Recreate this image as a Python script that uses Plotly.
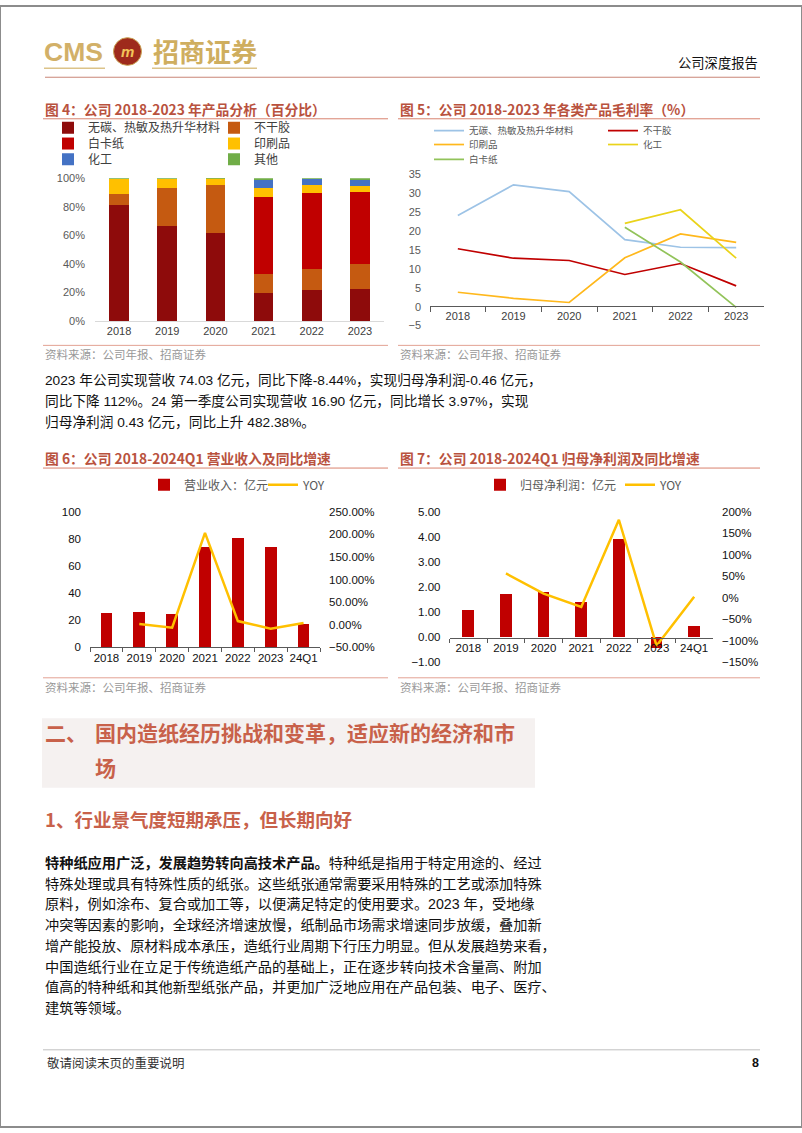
import plotly.graph_objects as go

W, H = 802, 1133


def px(x):
    return x / W


def py(y):
    return 1 - y / H


FONT = "Liberation Sans, Arial, Noto Sans CJK SC"
CJK = "Noto Sans CJK SC, Liberation Sans"
RED = "#C00000"
TITLE_C = "#B9523E"
HEAD_C = "#C8614A"
GOLD = "#D2B068"

# ---------------- data ----------------
years6 = ["2018", "2019", "2020", "2021", "2022", "2023"]
years7 = ["2018", "2019", "2020", "2021", "2022", "2023", "24Q1"]
pct_ticks = [0, 20, 40, 60, 80, 100]
pct_labels = ["0%", "20%", "40%", "60%", "80%", "100%"]

# Fig 4: product mix (%)
share_wutan = [81.5, 66.6, 61.3, 19.4, 22.1, 22.8]
share_buganjiao = [7.7, 26.7, 34.1, 13.3, 14.5, 17.5]
share_baika = [0, 0, 0, 54.2, 52.8, 49.8]
share_yinshua = [10.1, 6.2, 4.4, 6.2, 6.0, 4.6]
share_huagong = [0, 0, 0, 6.0, 3.9, 4.1]
share_qita = [0.7, 0.5, 0.2, 0.9, 0.7, 1.2]

# Fig 5: gross margin (%)
gm_wutan = [24.1, 32.2, 30.4, 17.7, 15.7, 15.6]
gm_buganjiao = [15.3, 12.8, 12.2, 8.5, 11.4, 5.5]
gm_yinshua = [3.8, 2.2, 1.1, 12.9, 19.2, 17.0]
gm_huagong = [None, None, None, 22.0, 25.6, 12.8]
gm_baika = [None, None, None, 21.0, 11.8, -0.2]

# Fig 6: revenue (亿元) and YoY (%)
revenue = [25.5, 26.0, 24.3, 74.0, 80.8, 74.03, 16.90]
revenue_yoy = [None, 1.7, -6.3, 203.0, 8.2, -8.44, 3.97]

# Fig 7: net profit (亿元) and YoY (%)
profit = [1.08, 1.70, 1.79, 1.38, 3.89, -0.46, 0.43]
profit_yoy = [None, 56.0, 9.0, -22.0, 181.0, -112.0, 2.0]

fig = go.Figure()

# ---------------- Fig 4 ----------------
c1 = [
    ("无碳、热敏及热升华材料", share_wutan, "#8E0B0B", "legend"),
    ("不干胶", share_buganjiao, "#C55A11", "legend"),
    ("白卡纸", share_baika, "#C00000", "legend2"),
    ("印刷品", share_yinshua, "#FFC000", "legend2"),
    ("化工", share_huagong, "#4472C4", "legend3"),
    ("其他", share_qita, "#70AD47", "legend3"),
]
for name, vals, color, lg in c1:
    fig.add_trace(go.Bar(x=years6, y=vals, name=name, width=0.41,
                         marker=dict(color=color, line=dict(width=0)),
                         xaxis="x", yaxis="y", legend=lg))

# ---------------- Fig 5 ----------------
c2 = [
    ("无碳、热敏及热升华材料", gm_wutan, "#9DC3E6", "legend4"),
    ("不干胶", gm_buganjiao, "#C00000", "legend4"),
    ("印刷品", gm_yinshua, "#FFB81C", "legend5"),
    ("化工", gm_huagong, "#EAD31A", "legend5"),
    ("白卡纸", gm_baika, "#92C35A", "legend6"),
]
for name, vals, color, lg in c2:
    fig.add_trace(go.Scatter(x=years6, y=vals, name=name, mode="lines",
                             line=dict(color=color, width=1.7),
                             xaxis="x2", yaxis="y2", legend=lg))

# ---------------- Fig 6 ----------------
fig.add_trace(go.Bar(x=years7, y=revenue, name="营业收入：亿元", width=0.355,
                     marker=dict(color=RED, line=dict(width=0)),
                     xaxis="x3", yaxis="y3", legend="legend7"))
fig.add_trace(go.Scatter(x=years7, y=revenue_yoy, name="YOY", mode="lines",
                         line=dict(color="#FFC000", width=2.5),
                         xaxis="x3", yaxis="y4", legend="legend7"))

# ---------------- Fig 7 ----------------
fig.add_trace(go.Bar(x=years7, y=profit, name="归母净利润：亿元", width=0.31,
                     marker=dict(color=RED, line=dict(width=0)),
                     xaxis="x4", yaxis="y5", legend="legend8"))
fig.add_trace(go.Scatter(x=years7, y=profit_yoy, name="YOY", mode="lines",
                         line=dict(color="#FFC000", width=2.5),
                         xaxis="x4", yaxis="y6", legend="legend8"))

# ---------------- axes ----------------
noline = dict(showgrid=False, zeroline=False)
layout_axes = dict(
    xaxis=dict(domain=[px(95), px(384)], anchor="y", type="category",
               range=[-0.5, 5.5], tickangle=0,
               showline=True, linecolor="#D9D9D9", linewidth=1, ticks="",
               tickfont=dict(size=11, color="#404040"), **noline),
    yaxis=dict(domain=[py(318.5), py(174)], anchor="x", range=[0, 100],
               tickvals=pct_ticks, ticktext=pct_labels,
               tickfont=dict(size=11, color="#595959"), ticklabelstandoff=9,
               **noline),
    xaxis2=dict(domain=[px(430), px(764)], anchor="free", position=py(303),
                type="category", range=[-0.5, 5.5], tickangle=0,
                showline=True, linecolor="#595959",
                ticks="outside", ticklen=5, tickcolor="#595959",
                tickson="boundaries", tickfont=dict(size=11, color="#404040"),
                **noline),
    yaxis2=dict(domain=[py(323), py(170)], anchor="x2", range=[-5, 35],
                dtick=5, tickfont=dict(size=11, color="#595959"),
                ticklabelstandoff=8, **noline),
    xaxis3=dict(domain=[px(90), px(320)], anchor="y3", type="category",
                range=[-0.5, 6.5], tickangle=0,
                showline=True, linecolor="#595959", ticks="outside",
                ticklen=4, tickcolor="#595959", tickson="boundaries",
                tickfont=dict(size=11.5, color="#111111"), **noline),
    yaxis3=dict(domain=[py(648.3), py(511)], anchor="x3", range=[0, 100],
                dtick=20, tickfont=dict(size=11.5, color="#111111"),
                ticklabelstandoff=8, **noline),
    yaxis4=dict(overlaying="y3", side="right", anchor="x3", range=[-50, 250],
                dtick=50, tickformat=".2f", ticksuffix="%",
                tickfont=dict(size=11.5, color="#111111"),
                ticklabelstandoff=8, **noline),
    xaxis4=dict(domain=[px(449.5), px(713)], anchor="free", position=py(638.3),
                type="category", range=[-0.5, 6.5], tickangle=0,
                showline=True, linecolor="#595959",
                ticks="outside", ticklen=4, tickcolor="#595959",
                tickson="boundaries", tickfont=dict(size=11.5, color="#111111"),
                **noline),
    yaxis5=dict(domain=[py(663), py(511)], anchor="x4", range=[-1, 5],
                dtick=1, tickformat=".2f",
                tickfont=dict(size=11.5, color="#111111"),
                ticklabelstandoff=8, **noline),
    yaxis6=dict(overlaying="y5", side="right", anchor="x4", range=[-150, 200],
                dtick=50, ticksuffix="%",
                tickfont=dict(size=11.5, color="#111111"),
                ticklabelstandoff=8, **noline),
)


def leg(x, y, ew, size, color):
    return dict(x=px(x), y=py(y), xanchor="left", yanchor="middle",
                orientation="h", entrywidth=ew, traceorder="normal",
                bgcolor="rgba(0,0,0,0)", font=dict(family=CJK, size=size, color=color),
                itemclick=False, itemdoubleclick=False)


legends = dict(
    legend=leg(48, 123, 121, 12, "#404040"),
    legend2=leg(48, 139, 121, 12, "#404040"),
    legend3=leg(48, 155, 121, 12, "#404040"),
    legend4=leg(429, 126, 129, 9.5, "#595959"),
    legend5=leg(429, 140, 129, 9.5, "#595959"),
    legend6=leg(429, 155, 129, 9.5, "#595959"),
    legend7=leg(144, 484, 74, 12, "#595959"),
    legend8=leg(480, 484, 95, 12, "#595959"),
)

# ---------------- texts ----------------
ann = []


def text(x, y, s, size, color="#000000", family=CJK, anchor="left"):
    ann.append(dict(x=px(x), y=py(y), xref="paper", yref="paper", text=s,
                    showarrow=False, xanchor=anchor, yanchor="middle",
                    font=dict(family=family, size=size, color=color)))


# header
text(42, 46, "<b>CMS</b>", 26.5, GOLD, FONT)
text(127.5, 46, "<b><i>m</i></b>", 15, "#F2C45A", FONT, "center")
text(151, 45, "<b>招商证券</b>", 26, "#CFAE5F")
text(760, 57, "公司深度报告", 13.3, "#111111", CJK, "right")

# chart titles
text(43, 104, "<b>图 4：公司 2018-2023 年产品分析（百分比）</b>", 13.8, TITLE_C)
text(398, 104, "<b>图 5：公司 2018-2023 年各类产品毛利率（%）</b>", 13.8, TITLE_C)
text(43, 457, "<b>图 6：公司 2018-2024Q1 营业收入及同比增速</b>", 13.8, TITLE_C)
text(398, 457, "<b>图 7：公司 2018-2024Q1 归母净利润及同比增速</b>", 13.8, TITLE_C)

for x0, y0 in [(43, 352), (398, 352), (43, 688), (398, 688)]:
    text(x0, y0, "资料来源：公司年报、招商证券", 11.5, "#999999")

# paragraph
para = [
    "2023 年公司实现营收 74.03 亿元，同比下降-8.44%，实现归母净利润-0.46 亿元，",
    "同比下降 112%。24 第一季度公司实现营收 16.90 亿元，同比增长 3.97%，实现",
    "归母净利润 0.43 亿元，同比上升 482.38%。",
]
for i, s in enumerate(para):
    text(43, 378 + 21 * i, s, 13.7, "#111111", FONT)

# section headings
text(43, 734, "<b>二、</b>", 21, HEAD_C)
text(93, 734, "<b>国内造纸经历挑战和变革，适应新的经济和市</b>", 21, HEAD_C)
text(93, 769, "<b>场</b>", 21, HEAD_C)
text(43, 822, "<b>1、行业景气度短期承压，但长期向好</b>", 18.5, HEAD_C)

body = [
    "<b>特种纸应用广泛，发展趋势转向高技术产品。</b>特种纸是指用于特定用途的、经过",
    "特殊处理或具有特殊性质的纸张。这些纸张通常需要采用特殊的工艺或添加特殊",
    "原料，例如涂布、复合或加工等，以便满足特定的使用要求。2023 年，受地缘",
    "冲突等因素的影响，全球经济增速放慢，纸制品市场需求增速同步放缓，叠加新",
    "增产能投放、原材料成本承压，造纸行业周期下行压力明显。但从发展趋势来看，",
    "中国造纸行业在立足于传统造纸产品的基础上，正在逐步转向技术含量高、附加",
    "值高的特种纸和其他新型纸张产品，并更加广泛地应用在产品包装、电子、医疗、",
    "建筑等领域。",
]
for i, s in enumerate(body):
    text(43, 866 + 21 * i, s, 14.2, "#111111", FONT)

# footer
text(45, 1068, "敬请阅读末页的重要说明", 12.5, "#333333")
text(761, 1068, "<b>8</b>", 12.5, "#111111", FONT, "right")

# ---------------- shapes ----------------
shapes = []


def hline(x0, x1, y, color, w=1):
    shapes.append(dict(type="line", xref="paper", yref="paper",
                       x0=px(x0), x1=px(x1), y0=py(y), y1=py(y),
                       line=dict(color=color, width=w)))


# page border
shapes.append(dict(type="rect", xref="paper", yref="paper", x0=0, x1=1, y0=0, y1=1,
                   line=dict(color="#8C8C8C", width=2), layer="above"))
# logo
shapes.append(dict(type="circle", xref="paper", yref="paper",
                   x0=px(113.5), x1=px(141.5), y0=py(60), y1=py(32),
                   fillcolor="#9E2A1C", line=dict(color="#C9A050", width=1),
                   layer="below"))
hline(44, 105, 63, "#DCC389", 1.5)
hline(152, 257, 63, "#DCC389", 1.5)
hline(45, 760, 72, "#C98676", 1)
# chart title / source lines
hline(43, 388, 114, "#D9826E", 1)
hline(398, 760, 114, "#D9826E", 1)
hline(43, 388, 343, "#E3A293", 1)
hline(398, 760, 343, "#E3A293", 1)
hline(43, 388, 467, "#D9826E", 1)
hline(398, 760, 467, "#D9826E", 1)
hline(43, 388, 679, "#E3A293", 1)
hline(398, 760, 679, "#E3A293", 1)
# section heading box
shapes.append(dict(type="rect", xref="paper", yref="paper",
                   x0=px(42), x1=px(535), y0=py(790), y1=py(720),
                   fillcolor="#F5F1F0", line=dict(width=0), layer="below"))
# footer line
hline(43, 760, 1055, "#BFBFBF", 1)

fig.update_layout(
    width=W, height=H, margin=dict(l=0, r=0, t=0, b=0),
    paper_bgcolor="white", plot_bgcolor="rgba(0,0,0,0)",
    barmode="stack", showlegend=True,
    font=dict(family=FONT, size=11, color="#404040"),
    annotations=ann, shapes=shapes,
    **layout_axes, **legends,
)

fig.write_html("out.html")
